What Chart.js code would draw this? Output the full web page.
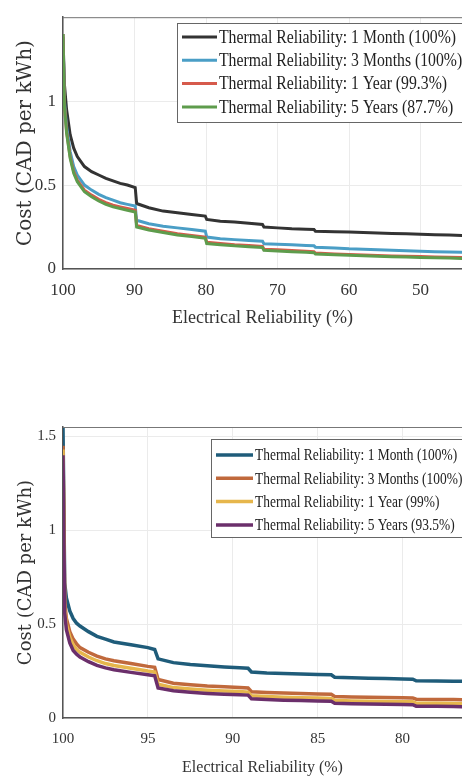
<!DOCTYPE html>
<html>
<head>
<meta charset="utf-8">
<script src="https://cdn.jsdelivr.net/npm/chart.js@4.4.1/dist/chart.umd.min.js"></script>
<style>
    body { margin: 0; background: #fff; }
    #page { position: relative; width: 462px; height: 778px; overflow: hidden; }
    .box { position: absolute; left: 0; width: 462px; }
    #topBox { top: 0; height: 335px; }
    #bottomBox { top: 400px; height: 378px; }
</style>
</head>
<body>
<div id="page">
    <div class="box" id="topBox"><canvas id="topChart"></canvas></div>
    <div class="box" id="bottomBox"><canvas id="bottomChart"></canvas></div>
</div>
<script>
// ---- top figure (electrical reliability 100 -> ~44 %)
const topLabels = [
    'Thermal Reliability: 1 Month (100%)',
    'Thermal Reliability: 3 Months (100%)',
    'Thermal Reliability: 1 Year (99.3%)',
    'Thermal Reliability: 5 Years (87.7%)'
];
const topX = [100, 99.8, 99.5, 99, 98.5, 98, 97, 96, 95, 94, 93, 92, 91, 89.9, 89.7, 88, 86, 84, 82, 80.1,
    79.9, 78, 76, 74, 72.1, 71.9, 70, 68, 66, 64.9, 64.7, 62, 60, 58, 56, 54, 52, 50, 48, 46, 44];
const top1Month = [1.38, 1.1, 0.95, 0.8, 0.72, 0.67, 0.61, 0.58, 0.56, 0.54, 0.525, 0.51, 0.5, 0.485, 0.39, 0.365, 0.345, 0.335, 0.325, 0.315,
    0.295, 0.285, 0.28, 0.272, 0.265, 0.25, 0.245, 0.24, 0.237, 0.235, 0.225, 0.222, 0.22, 0.218, 0.215, 0.212, 0.21, 0.207, 0.204, 0.202, 0.2];
const top3Months = [1.4, 1.0, 0.85, 0.7, 0.61, 0.56, 0.5, 0.47, 0.445, 0.425, 0.41, 0.395, 0.385, 0.375, 0.29, 0.27, 0.255, 0.245, 0.235, 0.225,
    0.19, 0.18, 0.175, 0.17, 0.165, 0.15, 0.147, 0.144, 0.14, 0.138, 0.13, 0.125, 0.12, 0.117, 0.114, 0.111, 0.108, 0.105, 0.103, 0.101, 0.1];
const top1Year = [1.4, 0.98, 0.82, 0.67, 0.58, 0.53, 0.47, 0.44, 0.415, 0.395, 0.38, 0.37, 0.36, 0.35, 0.26, 0.24, 0.225, 0.21, 0.2, 0.19,
    0.16, 0.152, 0.145, 0.14, 0.135, 0.118, 0.114, 0.11, 0.106, 0.103, 0.095, 0.09, 0.087, 0.084, 0.081, 0.078, 0.076, 0.074, 0.072, 0.07, 0.068];
const top5Years = [1.4, 0.97, 0.81, 0.66, 0.57, 0.52, 0.46, 0.43, 0.405, 0.385, 0.37, 0.36, 0.35, 0.34, 0.25, 0.232, 0.217, 0.203, 0.193, 0.183,
    0.152, 0.145, 0.138, 0.133, 0.128, 0.111, 0.107, 0.103, 0.1, 0.097, 0.089, 0.085, 0.082, 0.079, 0.076, 0.073, 0.071, 0.069, 0.067, 0.065, 0.063];

// ---- bottom figure (electrical reliability 100 -> ~76.5 %)
const bottomLabels = [
    'Thermal Reliability: 1 Month (100%)',
    'Thermal Reliability: 3 Months (100%)',
    'Thermal Reliability: 1 Year (99%)',
    'Thermal Reliability: 5 Years (93.5%)'
];
const bottomX = [100, 99.9, 99.8, 99.6, 99.4, 99.2, 99, 98.5, 98, 97.5, 97, 96, 95, 94.6, 94.4, 93.5, 92.5, 91.5, 90.5, 89.6,
    89.1, 88.9, 88, 87, 86, 85, 84.2, 84, 83, 82, 81, 80, 79.4, 79.2, 78, 77, 76];
const bot1Month = [1.55, 0.72, 0.64, 0.57, 0.53, 0.505, 0.49, 0.46, 0.435, 0.42, 0.405, 0.39, 0.375, 0.365, 0.315, 0.295, 0.285, 0.278, 0.272, 0.268,
    0.265, 0.245, 0.24, 0.237, 0.234, 0.232, 0.23, 0.217, 0.214, 0.212, 0.21, 0.208, 0.207, 0.198, 0.197, 0.196, 0.195];
const bot3Months = [1.45, 0.62, 0.53, 0.46, 0.42, 0.395, 0.375, 0.35, 0.33, 0.315, 0.305, 0.29, 0.275, 0.27, 0.205, 0.185, 0.177, 0.17, 0.166, 0.163,
    0.16, 0.14, 0.136, 0.133, 0.13, 0.128, 0.126, 0.115, 0.112, 0.11, 0.109, 0.108, 0.107, 0.1, 0.099, 0.098, 0.097];
const bot1Year = [1.43, 0.59, 0.5, 0.43, 0.39, 0.365, 0.35, 0.325, 0.305, 0.29, 0.28, 0.265, 0.25, 0.245, 0.18, 0.162, 0.154, 0.148, 0.144, 0.141,
    0.138, 0.118, 0.114, 0.111, 0.108, 0.106, 0.104, 0.094, 0.091, 0.089, 0.088, 0.087, 0.086, 0.079, 0.078, 0.077, 0.076];
const bot5Years = [1.4, 0.56, 0.47, 0.4, 0.36, 0.34, 0.325, 0.3, 0.28, 0.267, 0.257, 0.243, 0.23, 0.225, 0.16, 0.145, 0.137, 0.131, 0.127, 0.124,
    0.122, 0.102, 0.098, 0.095, 0.093, 0.091, 0.089, 0.079, 0.076, 0.074, 0.073, 0.072, 0.071, 0.063, 0.062, 0.061, 0.06];

const serif = "'Liberation Serif', serif";

// legend drawn inside the plot, MATLAB style box
const boxLegend = {
    id: 'boxLegend',
    afterDraw(chart, args, o) {
        const ctx = chart.ctx;
        ctx.save();
        ctx.fillStyle = '#fff';
        ctx.fillRect(o.x, o.y, o.w, o.h);
        ctx.strokeStyle = '#666';
        ctx.lineWidth = 1;
        ctx.strokeRect(o.x + 0.5, o.y + 0.5, o.w, o.h);
        chart.data.datasets.forEach((ds, i) => {
            const cy = o.y + o.first + i * o.step;
            ctx.strokeStyle = ds.borderColor;
            ctx.lineWidth = ds.borderWidth;
            ctx.beginPath();
            ctx.moveTo(o.x + 5, cy);
            ctx.lineTo(o.x + 5 + o.sample, cy);
            ctx.stroke();
            ctx.save();
            ctx.translate(o.x + 7 + o.sample, cy);
            ctx.scale(o.squeeze, 1);
            ctx.fillStyle = '#222';
            ctx.font = o.fontSize + 'px ' + serif;
            ctx.textBaseline = 'middle';
            ctx.fillText(ds.label, 0, 1);
            ctx.restore();
        });
        ctx.restore();
    }
};

// upper frame line of the axes
const topFrame = {
    id: 'topFrame',
    afterDatasetsDraw(chart) {
        const { ctx, chartArea } = chart;
        ctx.save();
        ctx.strokeStyle = '#777';
        ctx.lineWidth = 1;
        ctx.beginPath();
        ctx.moveTo(chartArea.left, chartArea.top + 0.5);
        ctx.lineTo(chartArea.right, chartArea.top + 0.5);
        ctx.stroke();
        ctx.restore();
    }
};

function series(xs, ys) {
    return xs.map((x, i) => ({ x: x, y: ys[i] }));
}

function makeChart(id, cfg) {
    const datasets = cfg.values.map((ys, i) => ({
        label: cfg.labels[i],
        data: series(cfg.xs, ys),
        borderColor: cfg.colors[i],
        backgroundColor: cfg.colors[i],
        borderWidth: cfg.lineWidth,
        pointRadius: 0,
        tension: 0,
        order: cfg.values.length - i
    }));

    return new Chart(document.getElementById(id), {
        type: 'line',
        data: { datasets: datasets },
        plugins: [topFrame, boxLegend],
        options: {
            responsive: true,
            maintainAspectRatio: false,
            animation: false,
            layout: { padding: { top: cfg.padTop, right: 0, left: 0, bottom: 0 } },
            plugins: {
                legend: { display: false },
                tooltip: { enabled: false },
                boxLegend: cfg.legend
            },
            scales: {
                x: {
                    type: 'linear',
                    reverse: true,
                    min: cfg.xMin,
                    max: 100,
                    afterFit: s => { s.height = cfg.xHeight; },
                    ticks: {
                        stepSize: cfg.xStep,
                        includeBounds: false,
                        maxRotation: 0,
                        padding: cfg.xTickPad,
                        color: '#333',
                        font: { family: serif, size: cfg.tickSize }
                    },
                    grid: { color: '#ebebeb', drawTicks: false },
                    border: { color: '#555', width: 1.5 },
                    title: {
                        display: true,
                        text: 'Electrical Reliability (%)',
                        color: '#333',
                        font: { family: serif, size: cfg.xTitleSize },
                        padding: { top: 0, bottom: cfg.xTitlePad }
                    }
                },
                y: {
                    min: 0,
                    max: cfg.yMax,
                    afterFit: s => { s.width = 63; },
                    ticks: {
                        stepSize: 0.5,
                        includeBounds: false,
                        padding: 7,
                        color: '#333',
                        font: { family: serif, size: cfg.tickSize },
                        callback: v => (v > cfg.yLabelMax ? '' : v)
                    },
                    grid: { color: '#ebebeb', drawTicks: false },
                    border: { color: '#555', width: 1.5 },
                    title: {
                        display: true,
                        text: 'Cost (CAD per kWh)',
                        color: '#333',
                        font: { family: "'DejaVu Serif', serif", size: cfg.yTitleSize },
                        padding: { top: cfg.yTitlePad, bottom: 0 }
                    }
                }
            }
        }
    });
}

makeChart('topChart', {
    labels: topLabels,
    xs: topX,
    values: [top1Month, top3Months, top1Year, top5Years],
    colors: ['#333333', '#4a9ec6', '#d65a4c', '#5e9c4c'],
    lineWidth: 3,
    padTop: 11,
    xMin: 44.2,
    xStep: 10,
    yMax: 1.5,
    yLabelMax: 1.2,
    xHeight: 66,
    xTickPad: 11,
    tickSize: 17,
    xTitleSize: 18,
    xTitlePad: 6,
    yTitleSize: 20,
    yTitlePad: 14,
    legend: { x: 177, y: 23, w: 290, h: 99, first: 14, step: 23.3, sample: 35, fontSize: 18, squeeze: 0.875 }
});

makeChart('bottomChart', {
    labels: bottomLabels,
    xs: bottomX,
    values: [bot1Month, bot3Months, bot1Year, bot5Years],
    colors: ['#1f5c7a', '#c0693c', '#e6b64c', '#6b2f6b'],
    lineWidth: 3.5,
    padTop: 27,
    xMin: 76.5,
    xStep: 5,
    yMax: 1.55,
    yLabelMax: 1.6,
    xHeight: 60,
    xTickPad: 12,
    tickSize: 15,
    xTitleSize: 16,
    xTitlePad: 1,
    yTitleSize: 18,
    yTitlePad: 16,
    legend: { x: 211, y: 39, w: 260, h: 98, first: 16, step: 23.3, sample: 37, fontSize: 17, squeeze: 0.79 }
});
</script>
</body>
</html>
